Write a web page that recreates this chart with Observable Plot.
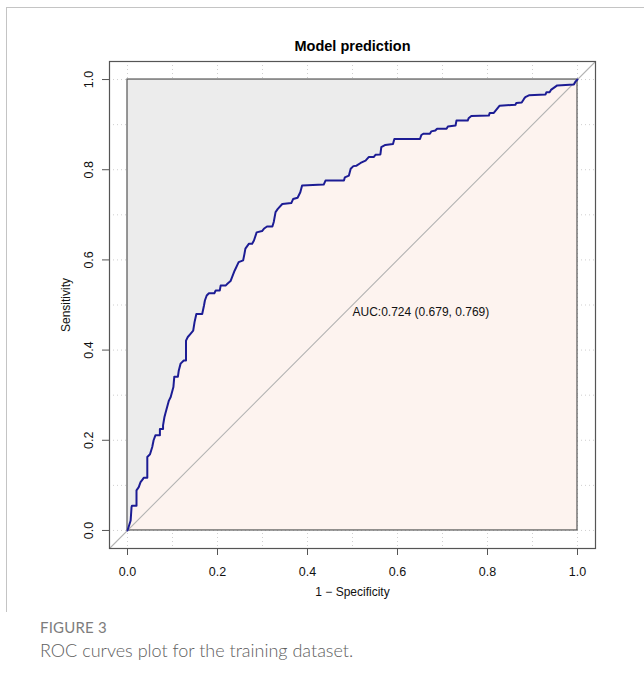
<!DOCTYPE html>
<html>
<head>
<meta charset="utf-8">
<script src="https://cdn.jsdelivr.net/npm/d3@7"></script>
<script src="https://cdn.jsdelivr.net/npm/@observablehq/plot@0.6"></script>
<style>
  html, body { margin: 0; padding: 0; background: #fff; }
  body { width: 644px; height: 686px; position: relative; overflow: hidden; }
  #frame { position: absolute; left: 6px; top: 7px; width: 640px; height: 604px;
           border-top: 1px solid #c4c4c4; border-left: 1px solid #c4c4c4; }
  #chart { position: absolute; left: 0; top: 0; }
  #fig { position: absolute; left: 40px; top: 618px; font-family: Lato, "Open Sans", sans-serif;
         font-size: 15px; color: #7d7d7d; letter-spacing: 0.2px; }
  #cap { position: absolute; left: 40px; top: 639px; font-family: Lato, "Open Sans", sans-serif;
         font-size: 18px; font-weight: 300; color: #5e5e5e; }
</style>
</head>
<body>
<div id="frame"></div>
<div id="chart"></div>
<div id="fig">FIGURE 3</div>
<div id="cap">ROC curves plot for the training dataset.</div>
<script>
// ROC curve vertices (1 - specificity, sensitivity)
const fpr = [0,0.007,0.009,0.010,0.020,0.020,0.025,0.029,0.035,0.036,0.044,0.044,0.050,0.055,0.058,0.062,0.072,0.072,0.079,0.079,0.082,0.084,0.092,0.096,0.102,0.104,0.112,0.114,0.118,0.125,0.130,0.130,0.134,0.140,0.146,0.149,0.153,0.166,0.170,0.172,0.176,0.181,0.193,0.196,0.205,0.207,0.218,0.222,0.229,0.238,0.247,0.257,0.260,0.262,0.270,0.277,0.281,0.287,0.299,0.303,0.310,0.322,0.325,0.329,0.334,0.344,0.364,0.368,0.378,0.384,0.388,0.436,0.440,0.481,0.483,0.492,0.496,0.502,0.509,0.518,0.529,0.536,0.547,0.551,0.562,0.564,0.573,0.590,0.593,0.650,0.653,0.658,0.672,0.675,0.684,0.688,0.709,0.712,0.729,0.731,0.756,0.758,0.764,0.803,0.805,0.814,0.818,0.827,0.862,0.864,0.876,0.881,0.884,0.892,0.929,0.931,0.938,0.941,0.955,0.992,0.996,1];
const tpr = [0,0.022,0.052,0.055,0.055,0.089,0.096,0.107,0.115,0.117,0.117,0.163,0.169,0.185,0.200,0.211,0.211,0.225,0.225,0.233,0.251,0.259,0.288,0.296,0.318,0.341,0.341,0.355,0.370,0.377,0.377,0.421,0.429,0.436,0.443,0.462,0.480,0.480,0.499,0.510,0.521,0.526,0.526,0.532,0.532,0.543,0.543,0.547,0.553,0.576,0.595,0.599,0.614,0.625,0.636,0.636,0.643,0.661,0.664,0.669,0.674,0.674,0.684,0.706,0.713,0.724,0.726,0.735,0.738,0.750,0.765,0.767,0.776,0.776,0.783,0.787,0.802,0.808,0.809,0.815,0.820,0.828,0.828,0.833,0.834,0.850,0.855,0.857,0.868,0.868,0.877,0.880,0.880,0.885,0.887,0.891,0.891,0.896,0.898,0.909,0.909,0.914,0.919,0.920,0.926,0.926,0.931,0.942,0.944,0.948,0.949,0.957,0.961,0.965,0.967,0.972,0.972,0.977,0.987,0.989,0.996,1];

const axisTicks = [0, 0.2, 0.4, 0.6, 0.8, 1.0];
const gridTicks = [0, 0.1, 0.2, 0.3, 0.4, 0.5, 0.6, 0.7, 0.8, 0.9, 1.0];
const titleText = "Model prediction";
const xLabel = "1 − Specificity";
const yLabel = "Sensitivity";
const aucLabel = "AUC:0.724 (0.679, 0.769)";
const aucPos = [0.5, 0.5];
const unitBox = [{x1: 0, x2: 1, y1: 0, y2: 1}];
const diag = [-0.04, 1.04];

const roc = fpr.map((f, i) => ({fpr: f, tpr: tpr[i]}));
const font = "'Liberation Sans', Arial, Helvetica, sans-serif";
const fmt = d3.format(".1f");

const chart = Plot.plot({
  width: 644,
  height: 610,
  marginLeft: 109,
  marginRight: 49,
  marginTop: 61,
  marginBottom: 62,
  style: {fontFamily: font, fontSize: "12px", background: "transparent", overflow: "visible"},
  x: {domain: [-0.04, 1.04]},
  y: {domain: [-0.04, 1.04]},
  marks: [
    Plot.gridX(gridTicks, {stroke: "#cfcfcf", strokeOpacity: 1, strokeDasharray: "1,3"}),
    Plot.gridY(gridTicks, {stroke: "#cfcfcf", strokeOpacity: 1, strokeDasharray: "1,3"}),
    Plot.areaY(roc, {x: "fpr", y1: "tpr", y2: 1, fill: "#ececec"}),
    Plot.areaY(roc, {x: "fpr", y1: 0, y2: "tpr", fill: "#fdf3ef"}),
    Plot.rect(unitBox, {x1: "x1", x2: "x2", y1: "y1", y2: "y2", fill: "none", stroke: "#555", strokeWidth: 1.2}),
    Plot.line(diag.map(v => ({x: v, y: v})), {x: "x", y: "y", stroke: "#b3b3b3", strokeWidth: 1.1}),
    Plot.line(roc, {x: "fpr", y: "tpr", stroke: "#1c1c94", strokeWidth: 2}),
    Plot.text([aucLabel], {x: aucPos[0], y: aucPos[1], text: d => d, textAnchor: "start", lineAnchor: "top", dy: 2, fontSize: 12, fill: "#111"}),
    Plot.frame({stroke: "#555", strokeWidth: 1.2}),
    Plot.axisX(axisTicks, {tickSize: 7, tickFormat: () => "", label: null, stroke: "#555"}),
    Plot.axisY(axisTicks, {tickSize: 7, tickFormat: () => "", label: null, stroke: "#555"}),
    Plot.text(axisTicks, {x: d => d, y: -0.04, text: d => fmt(d), dy: 23, fontSize: 12.5, textAnchor: "middle", lineAnchor: "middle", fill: "#111"}),
    Plot.text(axisTicks, {x: -0.04, y: d => d, text: d => fmt(d), rotate: -90, dx: -21, fontSize: 12.5, textAnchor: "middle", lineAnchor: "middle", fill: "#111"}),
    Plot.text([titleText], {frameAnchor: "top", text: d => d, dy: -15, fontSize: 14.5, fontWeight: "bold", fill: "#000", lineAnchor: "middle"}),
    Plot.text([xLabel], {frameAnchor: "bottom", text: d => d, dy: 44, fontSize: 12, fill: "#111", lineAnchor: "middle"}),
    Plot.text([yLabel], {frameAnchor: "left", text: d => d, dx: -43, rotate: -90, fontSize: 12, fill: "#111", textAnchor: "middle", lineAnchor: "middle"})
  ]
});
document.getElementById("chart").appendChild(chart);
</script>
</body>
</html>
